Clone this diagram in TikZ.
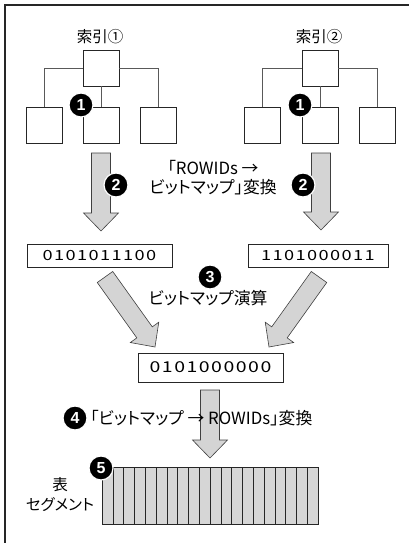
\documentclass[tikz,border=0pt]{standalone}
\usepackage{fontspec}
\setmainfont{Noto Sans CJK JP}[RawFeature=+palt]
\newfontfamily\digitfont{Noto Sans CJK JP}[FakeStretch=1.3,LetterSpace=10]
\newfontfamily\badgefont{Liberation Sans}
\usetikzlibrary{calc}
\definecolor{agray}{RGB}{212,212,212}
\definecolor{tgray}{RGB}{214,214,214}
\newcommand\blockarrow[2]{%
 \draw[blk] ($(#1)!9.5pt!90:(#2)$) -- ($(#2)!18pt!(#1)!9.5pt!90:(#2)$) -- ($(#2)!18pt!(#1)!17.5pt!90:(#2)$) -- (#2) -- ($(#2)!18pt!(#1)!17.5pt!-90:(#2)$) -- ($(#2)!18pt!(#1)!9.5pt!-90:(#2)$) -- ($(#1)!9.5pt!-90:(#2)$) -- cycle;}
\begin{document}
\begin{tikzpicture}[x=1pt,y=-1pt,
 box/.style={draw=black!85,line width=0.8pt,fill=white,inner sep=0pt,minimum width=36pt,minimum height=36pt},
 wire/.style={draw=black!65,line width=0.9pt},
 bitbox/.style={draw=black!85,line width=0.8pt,fill=white,inner sep=0pt,minimum height=23pt},
 badge/.style={circle,fill=black,draw=white,line width=1.2pt,inner sep=0pt,minimum size=24pt,text=white,font=\badgefont\bfseries\fontsize{16}{16}\selectfont},
 lbl/.style={inner sep=0pt,align=center,font=\fontsize{16.8}{19}\selectfont},
 blk/.style={fill=agray,draw=black!75,line width=0.6pt,line join=miter},
 digits/.style={font=\digitfont\fontsize{14}{14}\selectfont}
]
\useasboundingbox (0,0) rectangle (409,543);
% frame
\draw[line width=1.1pt,black!85] (5,543) -- (5,5) -- (409,5);

% tree 1
\node[lbl,font=\fontsize{15.5}{15}\selectfont] (t1) at (100,37) {索引①};
\node[box] (r1) at (101,68) {};
\node[box] (c1l) at (44,125) {};
\node[box] (c1m) at (101,125) {};
\node[box] (c1r) at (158,125) {};
\draw[wire] (r1.west) -| (c1l.north);
\draw[wire] (r1.east) -| (c1r.north);
\draw[wire] (r1.south) -- (c1m.north);
\node[badge] (b1a) at (81,105) {1};

% tree 2
\node[lbl,font=\fontsize{15.5}{15}\selectfont] (t2) at (319,37) {索引②};
\node[box] (r2) at (320,68) {};
\node[box] (c2l) at (262.5,125) {};
\node[box] (c2m) at (320,125) {};
\node[box] (c2r) at (377.5,125) {};
\draw[wire] (r2.west) -| (c2l.north);
\draw[wire] (r2.east) -| (c2r.north);
\draw[wire] (r2.south) -- (c2m.north);
\node[badge] (b1b) at (300,105) {1};

% step 2 arrows
\coordinate (a2ls) at (101,153);
\coordinate (a2le) at (101,231);
\coordinate (a2rs) at (321,153);
\coordinate (a2re) at (321,230);
\blockarrow{a2ls}{a2le}
\blockarrow{a2rs}{a2re}
\node[badge] (b2a) at (116,185) {2};
\node[badge] (b2b) at (303,185) {2};
\node[lbl] (txt2) at (213,178) {「ROWIDs →\\ビットマップ」変換};

% bitmaps
\node[bitbox,minimum width=145pt,digits] (bl) at (99.5,255.5) {0101011100};
\node[bitbox,minimum width=140pt,digits] (br) at (318,255.5) {1101000011};

% step 3
\node[badge] (b3) at (210,277) {3};
\node[lbl] (txt3) at (208,298) {ビットマップ演算};
\coordinate (a3ls) at (105,277);
\coordinate (a3le) at (155,347);
\coordinate (a3rs) at (319,277);
\coordinate (a3re) at (269,347);
\blockarrow{a3ls}{a3le}
\blockarrow{a3rs}{a3re}

% result
\node[bitbox,minimum width=145pt,minimum height=29pt,font=\digitfont\fontsize{15}{15}\selectfont] (res) at (210.5,367.5) {0101000000};

% step 4
\coordinate (a4s) at (210,390);
\coordinate (a4e) at (210,458);
\blockarrow{a4s}{a4e}
\node[badge] (b4) at (75,418) {4};
\node[lbl,anchor=west] (txt4) at (90,418) {「ビットマップ → ROWIDs」変換};

% table segment
\draw[fill=tgray,draw=black!85,line width=0.7pt] (102,467) rectangle (318,524);
\foreach \i in {1,...,19}{
  \draw[black!85,line width=0.6pt] ({102+10.8*\i},467) -- ({102+10.8*\i},524);
}
\node[badge] (b5) at (101,468) {5};
\node[lbl,font=\fontsize{15.5}{20}\selectfont] (txt5) at (60,495) {表\\セグメント};
\end{tikzpicture}
\end{document}
